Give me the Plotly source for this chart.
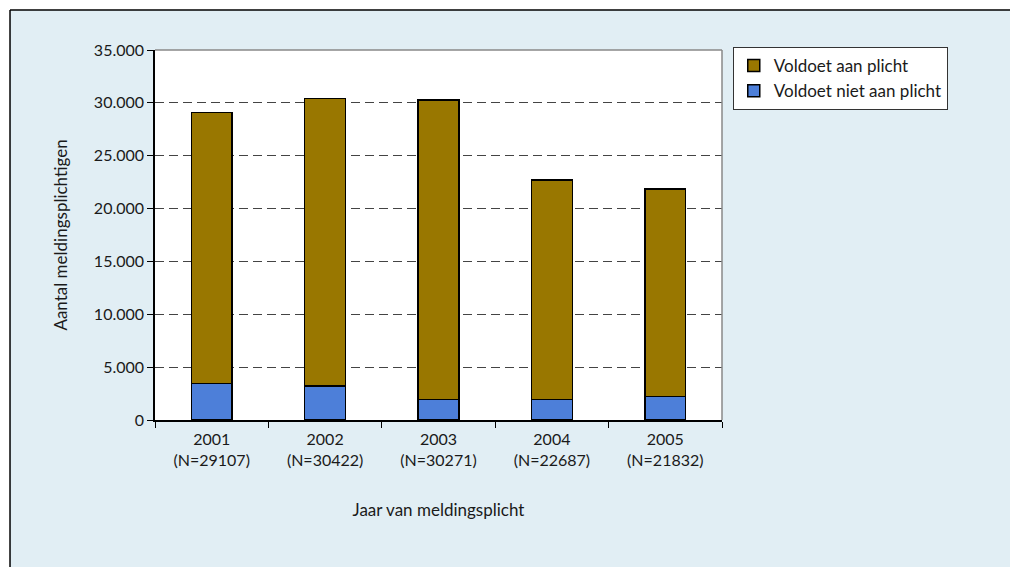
import plotly.graph_objects as go

# data
jaren = ["2001", "2002", "2003", "2004", "2005"]
totaal = [29107, 30422, 30271, 22687, 21832]
niet_voldaan = [3450, 3200, 1950, 1920, 2200]
voldaan = [t - n for t, n in zip(totaal, niet_voldaan)]
labels = ["%s<br>(N=%d)" % (j, t) for j, t in zip(jaren, totaal)]

FONT = "Lato"

fig = go.Figure()
fig.add_trace(go.Bar(
    x=labels, y=niet_voldaan, name="Voldoet niet aan plicht",
    marker=dict(color="#4D7FD9", line=dict(color="black", width=1.5))
))
fig.add_trace(go.Bar(
    x=labels, y=voldaan, name="Voldoet aan plicht",
    marker=dict(color="#997700", line=dict(color="black", width=1.5))
))

fig.update_layout(
    barmode="stack",
    bargap=0.64,
    width=1010, height=567,
    margin=dict(l=155, r=288, t=50, b=147),
    paper_bgcolor="#E1EEF4",
    plot_bgcolor="white",
    separators=",.",
    font=dict(family=FONT, size=16, color="#1a1a1a"),
    legend=dict(
        x=1.019, y=1.008, xanchor="left", yanchor="top",
        traceorder="reversed",
        bgcolor="white", bordercolor="#333333", borderwidth=1,
        font=dict(family=FONT, size=17, color="#1a1a1a"),
    ),
    xaxis=dict(
        title=dict(text="Jaar van meldingsplicht", standoff=36,
                   font=dict(family=FONT, size=17, color="#1a1a1a")),
        showline=True, linecolor="black", linewidth=1.5,
        ticks="outside", tickson="boundaries", ticklen=6, tickcolor="black",
        tickfont=dict(family=FONT, size=16, color="#1a1a1a"),
        ticklabelstandoff=4,
    ),
    yaxis=dict(
        title=dict(text="Aantal meldingsplichtigen", standoff=22,
                   font=dict(family=FONT, size=17, color="#1a1a1a")),
        range=[0, 35000], dtick=5000, tickformat=",d",
        showline=True, linecolor="black", linewidth=1.5,
        ticks="outside", ticklen=6, tickcolor="black",
        tickfont=dict(family=FONT, size=16, color="#1a1a1a"),
        showgrid=True, gridcolor="#444444", gridwidth=1, griddash="9px,5px",
        zeroline=False,
    ),
    shapes=[
        # white strips outside the blue frame, plus the frame edges
        dict(type="rect", xref="paper", yref="paper", x0=-0.3, x1=1.6,
             y0=1.108, y1=1.2, fillcolor="white", line=dict(width=0), layer="below"),
        dict(type="rect", xref="paper", yref="paper", x0=-0.3, x1=-0.2557,
             y0=-0.5, y1=1.2, fillcolor="white", line=dict(width=0), layer="below"),
        dict(type="line", xref="paper", yref="paper", x0=-0.2557, x1=1.6,
             y0=1.108, y1=1.108, line=dict(color="black", width=1.5)),
        dict(type="line", xref="paper", yref="paper", x0=-0.2557, x1=-0.2557,
             y0=-0.5, y1=1.108, line=dict(color="black", width=1.5)),
        # solid grey top and right border of the plot area
        dict(type="line", xref="paper", yref="paper", x0=0, x1=1,
             y0=1, y1=1, line=dict(color="#888888", width=1.5)),
        dict(type="line", xref="paper", yref="paper", x0=1, x1=1,
             y0=0, y1=1, line=dict(color="#888888", width=1.5)),
    ],
)

# drop the default page margin so the figure sits at the window's corner
fig.write_html(
    "out.html",
    config={"displayModeBar": False},
    post_script="document.body.style.margin='0';document.body.style.overflow='hidden';",
)
